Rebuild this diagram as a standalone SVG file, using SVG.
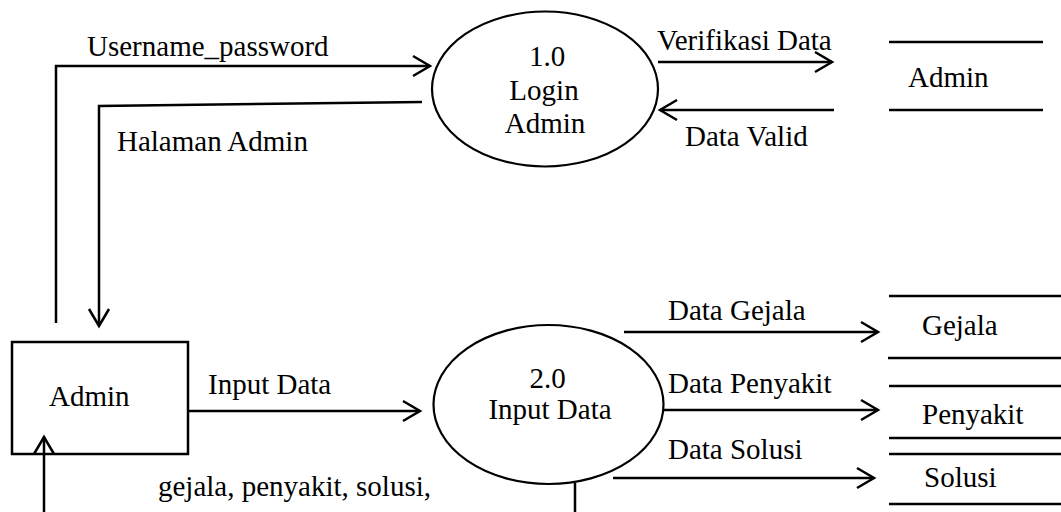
<svg xmlns="http://www.w3.org/2000/svg" width="1061" height="512" viewBox="0 0 1061 512">
  <style>
    .bg { fill: #ffffff; }
    .proc { fill: none; stroke: #000; stroke-width: 2.2; }
    .ent { fill: none; stroke: #000; stroke-width: 2.5; }
    .store { stroke: #000; stroke-width: 2.5; }
    .flow { fill: none; stroke: #000; stroke-width: 2.5; marker-end: url(#arr); }
    .lbl { font-family: "Liberation Serif", "Times New Roman", serif; font-size: 29px; fill: #000; }
    .mid { text-anchor: middle; }
  </style>
  <defs>
    <marker id="arr" markerUnits="userSpaceOnUse" markerWidth="24" markerHeight="24" viewBox="-20 -12 24 24" refX="0" refY="0" orient="auto" overflow="visible">
      <path d="M-17,-10 L0,0 L-17,10" fill="none" stroke="#000" stroke-width="2.5"/>
    </marker>
  </defs>

  <rect class="bg" x="0" y="0" width="1061" height="512"/>

  <!-- data flows -->
  <g id="connectors">
    <path class="flow" d="M56,323 V66 H430"/>
    <path class="flow" d="M422,102 L99,106 V326"/>
    <path class="flow" d="M658,62 H832"/>
    <path class="flow" d="M834,110 H660"/>
    <path class="flow" d="M188,411 H420"/>
    <path class="flow" d="M624,332 H878"/>
    <path class="flow" d="M664,410 H878"/>
    <path class="flow" d="M613,478 H874"/>
    <path class="flow" d="M575,483 V540 H44 V437"/>

    <text class="lbl" x="87" y="56">Username_password</text>
    <text class="lbl" x="117" y="151">Halaman Admin</text>
    <text class="lbl" x="657" y="50">Verifikasi Data</text>
    <text class="lbl" x="685" y="146">Data Valid</text>
    <text class="lbl" x="208" y="394">Input Data</text>
    <text class="lbl" x="668" y="320">Data Gejala</text>
    <text class="lbl" x="668" y="393">Data Penyakit</text>
    <text class="lbl" x="668" y="459">Data Solusi</text>
    <text class="lbl" x="158" y="496">gejala, penyakit, solusi,</text>
  </g>

  <!-- external entity -->
  <g id="admin-entity">
    <rect class="ent" x="12" y="342" width="176" height="112"/>
    <text class="lbl" x="49" y="406">Admin</text>
  </g>

  <!-- processes -->
  <g id="proc-login">
    <ellipse class="proc" cx="545" cy="89" rx="113" ry="77.5"/>
    <text class="lbl mid" x="547" y="66">1.0</text>
    <text class="lbl mid" x="544" y="100">Login</text>
    <text class="lbl mid" x="545" y="133">Admin</text>
  </g>

  <g id="proc-input">
    <ellipse class="proc" cx="548.5" cy="404.5" rx="115" ry="79.5"/>
    <text class="lbl mid" x="547.5" y="388">2.0</text>
    <text class="lbl mid" x="550" y="419">Input Data</text>
  </g>

  <!-- data stores -->
  <g id="store-admin">
    <line class="store" x1="889" y1="42" x2="1043" y2="42"/>
    <line class="store" x1="889" y1="110" x2="1043" y2="110"/>
    <text class="lbl" x="908" y="87">Admin</text>
  </g>

  <g id="store-gejala">
    <line class="store" x1="889" y1="296" x2="1061" y2="296"/>
    <line class="store" x1="888" y1="358" x2="1061" y2="358"/>
    <text class="lbl" x="922" y="335">Gejala</text>
  </g>

  <g id="store-penyakit">
    <line class="store" x1="889" y1="386" x2="1061" y2="386"/>
    <line class="store" x1="889" y1="438" x2="1061" y2="438"/>
    <text class="lbl" x="922" y="424">Penyakit</text>
  </g>

  <g id="store-solusi">
    <line class="store" x1="889" y1="454" x2="1061" y2="454"/>
    <line class="store" x1="889" y1="504" x2="1061" y2="504"/>
    <text class="lbl" x="924" y="487">Solusi</text>
  </g>
</svg>
